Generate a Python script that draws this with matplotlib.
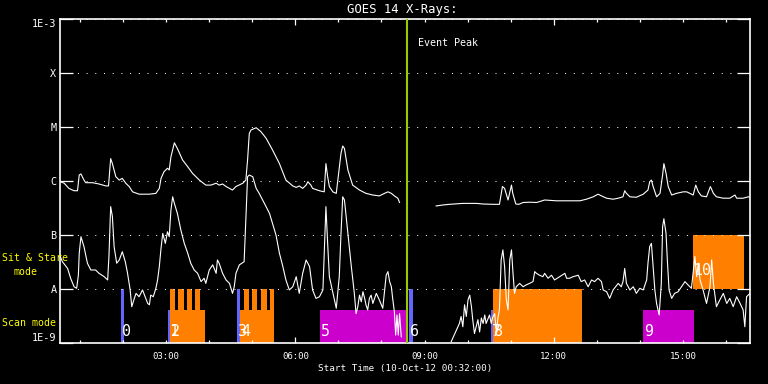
import numpy as np
import matplotlib.pyplot as plt
from matplotlib.ticker import FixedLocator, FuncFormatter, NullLocator
from matplotlib.transforms import blended_transform_factory

# GOES 14 X-ray flux, time in hours after 10-Oct-12 00:00, flux in W/m^2
long_t = [0.54, 0.63, 0.74, 0.86, 0.94, 0.98, 1.02, 1.09, 1.13, 1.29, 1.44, 1.60, 1.66,
          1.71, 1.75, 1.83, 1.91, 1.98, 2.06, 2.14, 2.22, 2.37, 2.61, 2.76, 2.84, 2.88,
          2.95, 3.03, 3.07, 3.11, 3.19, 3.26, 3.38, 3.50, 3.61, 3.77, 3.92, 4.04, 4.16,
          4.23, 4.31, 4.39, 4.54, 4.62, 4.78, 4.85, 4.89, 4.93, 4.97, 5.09, 5.20, 5.32,
          5.47, 5.63, 5.78, 5.94, 6.02, 6.09, 6.17, 6.25, 6.29, 6.36, 6.40, 6.56, 6.67,
          6.71, 6.75, 6.79, 6.87, 6.95, 7.06, 7.10, 7.14, 7.22, 7.33, 7.49, 7.64, 7.80,
          7.95, 8.07, 8.15, 8.23, 8.30, 8.38, 8.42, np.nan,
          9.27, 9.43, 9.58, 9.89, 10.20, 10.36, 10.59, 10.74, 10.81, 10.86, 10.94, 11.02,
          11.05, 11.12, 11.19, 11.29, 11.44, 11.60, 11.67, 11.79, 12.06, 12.37, 12.61,
          12.76, 12.92, 13.03, 13.11, 13.23, 13.38, 13.50, 13.61, 13.65, 13.69, 13.77,
          13.92, 14.08, 14.19, 14.23, 14.27, 14.31, 14.39, 14.47, 14.53, 14.56, 14.61,
          14.66, 14.74, 14.85, 15.01, 15.09, 15.16, 15.24, 15.30, 15.36, 15.43, 15.55,
          15.64, 15.71, 15.78, 15.94, 16.09, 16.21, 16.25, 16.40, 16.52, 16.56]
long_f = [9.7e-7, 9.1e-7, 7.3e-7, 6.6e-7, 6.6e-7, 1.29e-6, 1.35e-6, 1.04e-6, 9.3e-7, 9.3e-7,
          8.8e-7, 8.1e-7, 8.1e-7, 2.6e-6, 2.1e-6, 1.2e-6, 1.04e-6, 1.12e-6, 9.1e-7, 7.9e-7,
          6.3e-7, 5.7e-7, 5.7e-7, 5.9e-7, 7.3e-7, 1.12e-6, 1.49e-6, 1.72e-6, 1.6e-6, 2.8e-6,
          5.1e-6, 4.0e-6, 2.45e-6, 1.84e-6, 1.39e-6, 1.04e-6, 8.4e-7, 8.4e-7, 9.1e-7, 8.4e-7,
          8.8e-7, 7.9e-7, 6.8e-7, 7.9e-7, 9.1e-7, 1.04e-6, 2.45e-6, 7.6e-6, 8.8e-6, 9.7e-6,
          8.2e-6, 6.2e-6, 3.75e-6, 2.1e-6, 1.04e-6, 8.1e-7, 7.6e-7, 8.1e-7, 7.3e-7, 8.4e-7,
          9.7e-7, 8.4e-7, 7.3e-7, 6.6e-7, 6.3e-7, 2.1e-6, 1.2e-6, 7.9e-7, 6.3e-7, 5.9e-7,
          3.25e-6, 4.45e-6, 4.0e-6, 1.6e-6, 8.4e-7, 6.8e-7, 5.9e-7, 5.5e-7, 5.3e-7, 5.9e-7,
          6.3e-7, 5.9e-7, 5.3e-7, 4.8e-7, 4.0e-7, np.nan,
          3.45e-7, 3.6e-7, 3.7e-7, 3.85e-7, 3.85e-7, 3.75e-7, 3.7e-7, 3.7e-7, 7.9e-7, 7.3e-7,
          4.45e-7, 8.4e-7, 5.9e-7, 3.75e-7, 3.7e-7, 4.0e-7, 4.05e-7, 4.0e-7, 4.15e-7, 4.45e-7,
          4.3e-7, 4.3e-7, 4.3e-7, 4.6e-7, 5.1e-7, 5.7e-7, 5.3e-7, 4.8e-7, 4.6e-7, 4.8e-7,
          5.1e-7, 6.6e-7, 5.9e-7, 5.1e-7, 5.0e-7, 5.7e-7, 6.8e-7, 9.7e-7, 1.04e-6, 7.9e-7,
          5.1e-7, 5.9e-7, 1.29e-6, 2.1e-6, 1.39e-6, 7.9e-7, 5.5e-7, 5.9e-7, 6.3e-7, 6.3e-7,
          5.9e-7, 5.5e-7, 8.4e-7, 6.3e-7, 5.3e-7, 5.1e-7, 7.9e-7, 5.9e-7, 5.1e-7, 4.8e-7,
          4.8e-7, 5.5e-7, 4.8e-7, 4.8e-7, 5.1e-7, 5.0e-7]

short_t = [0.54, 0.59, 0.71, 0.78, 0.86, 0.92, 0.96, 0.98, 1.02, 1.09, 1.17, 1.25, 1.36,
           1.44, 1.56, 1.64, 1.67, 1.71, 1.75, 1.79, 1.85, 1.91, 1.98, 2.05, 2.10, 2.16,
           2.20, 2.26, 2.30, 2.37, 2.45, 2.51, 2.57, 2.61, 2.64, 2.70, 2.76, 2.80, 2.84,
           2.88, 2.92, 2.98, 3.03, 3.07, 3.11, 3.15, 3.19, 3.26, 3.34, 3.42, 3.50, 3.57,
           3.65, 3.73, 3.81, 3.88, 3.92, 4.00, 4.08, 4.16, 4.19, 4.23, 4.31, 4.39, 4.47,
           4.54, 4.58, 4.62, 4.70, 4.81, 4.89, 4.93, 5.01, 5.09, 5.16, 5.24, 5.32, 5.40,
           5.47, 5.55, 5.63, 5.71, 5.78, 5.86, 5.94, 6.02, 6.09, 6.17, 6.25, 6.33, 6.40,
           6.48, 6.56, 6.64, 6.71, 6.75, 6.79, 6.95, 7.02, 7.06, 7.10, 7.14, 7.22, 7.30,
           7.37, 7.41, 7.45, 7.49, 7.53, 7.57, 7.61, 7.64, 7.68, 7.72, 7.76, 7.80, 7.88,
           7.95, 8.03, 8.11, 8.15, 8.19, 8.23, 8.26, 8.30, 8.33, 8.36, 8.39, 8.42, 8.46,
           np.nan,
           9.62, 9.81, 9.85, 9.89, 9.93, 9.97, 10.01, 10.05, 10.09, 10.12, 10.16, 10.20,
           10.24, 10.28, 10.32, 10.36, 10.40, 10.43, 10.51, 10.55, 10.59, 10.63, 10.67,
           10.71, 10.74, 10.78, 10.82, 10.86, 10.90, 10.94, 10.98, 11.02, 11.05, 11.09,
           11.13, 11.21, 11.29, 11.36, 11.44, 11.52, 11.56, 11.60, 11.67, 11.75, 11.79,
           11.87, 11.95, 12.02, 12.14, 12.26, 12.30, 12.37, 12.45, 12.57, 12.64, 12.72,
           12.80, 12.88, 12.95, 13.03, 13.11, 13.15, 13.23, 13.30, 13.38, 13.50, 13.57,
           13.61, 13.65, 13.69, 13.77, 13.85, 13.92, 14.00, 14.08, 14.16, 14.19, 14.23,
           14.27, 14.31, 14.35, 14.39, 14.45, 14.50, 14.53, 14.56, 14.61, 14.64, 14.68,
           14.74, 14.81, 14.89, 14.97, 15.05, 15.12, 15.20, 15.28, 15.32, 15.36, 15.40,
           15.47, 15.55, 15.63, 15.67, 15.71, 15.78, 15.86, 15.94, 16.02, 16.09, 16.17,
           16.25, 16.33, 16.40, 16.44, 16.48, 16.56]
short_f = [4.0e-8, 3.2e-8, 2.4e-8, 1.58e-8, 1.1e-8, 1.03e-8, 1.8e-8, 4.6e-8, 9.3e-8, 6.1e-8,
           3.0e-8, 2.25e-8, 2.25e-8, 1.95e-8, 1.69e-8, 1.47e-8, 4.0e-8, 3.35e-7, 2.2e-7,
           6.1e-8, 3.0e-8, 3.45e-8, 4.9e-8, 3.2e-8, 2.0e-8, 1.0e-8, 4.7e-9, 6.7e-9, 8.3e-9,
           7.2e-9, 9.6e-9, 7.2e-9, 5.4e-9, 5.1e-9, 7.7e-9, 7.2e-9, 1.03e-8, 1.47e-8, 2.6e-8,
           5.7e-8, 1.07e-7, 7.0e-8, 1.15e-7, 9.3e-8, 2.9e-7, 5.1e-7, 3.85e-7, 2.5e-7,
           1.24e-7, 7.0e-8, 4.6e-8, 3.0e-8, 2.25e-8, 1.95e-8, 1.37e-8, 1.58e-8, 1.27e-8,
           2.25e-8, 2.8e-8, 1.95e-8, 3.45e-8, 3.0e-8, 1.95e-8, 1.47e-8, 1.27e-8, 8.3e-9,
           1.1e-8, 1.95e-8, 2.8e-8, 3.2e-8, 1.2e-6, 1.29e-6, 1.2e-6, 7.3e-7, 5.9e-7,
           4.45e-7, 3.35e-7, 2.5e-7, 1.64e-7, 1.0e-7, 4.6e-8, 2.6e-8, 1.47e-8, 9.6e-9,
           1.1e-8, 1.69e-8, 8.3e-9, 1.95e-8, 3.45e-8, 2.6e-8, 9.6e-9, 6.7e-9, 7.2e-9,
           9.6e-9, 3.35e-7, 7.0e-8, 1.69e-8, 4.4e-9, 1.69e-8, 1.07e-7, 5.1e-7, 4.45e-7,
           1.07e-7, 2.6e-8, 8.3e-9, 3.5e-9, 4.7e-9, 7.7e-9, 5.8e-9, 8.9e-9, 6.7e-9, 5.1e-9,
           4.1e-9, 6.7e-9, 7.7e-9, 5.4e-9, 8.3e-9, 6.3e-9, 4.4e-9, 1.8e-8, 2.1e-8, 1.37e-8,
           1.1e-8, 6.7e-9, 3.8e-9, 1.4e-9, 3.3e-9, 1.4e-9, 3.5e-9, 1.3e-9,
           np.nan,
           1.06e-9, 2.3e-9, 3.1e-9, 2.0e-9, 5.1e-9, 3.1e-9, 6.3e-9, 7.7e-9, 4.7e-9, 2.7e-9,
           1.5e-9, 2.0e-9, 2.7e-9, 1.6e-9, 2.9e-9, 2.3e-9, 3.3e-9, 2.3e-9, 3.3e-9, 2.3e-9,
           3.1e-9, 3.5e-9, 1.6e-9, 3.1e-9, 4.1e-9, 3.45e-8, 5.3e-8, 2.6e-8, 6.3e-9, 4.1e-9,
           3.45e-8, 5.3e-8, 2.25e-8, 8.3e-9, 1.1e-8, 1.27e-8, 1.1e-8, 1.19e-8, 1.27e-8,
           1.37e-8, 2.1e-8, 1.95e-8, 1.8e-8, 1.69e-8, 1.95e-8, 1.58e-8, 1.8e-8, 1.47e-8,
           1.69e-8, 1.95e-8, 1.58e-8, 1.58e-8, 1.69e-8, 1.8e-8, 1.37e-8, 1.47e-8, 1.1e-8,
           1.47e-8, 1.37e-8, 1.58e-8, 1.37e-8, 9.6e-9, 8.9e-9, 6.7e-9, 9.6e-9, 1.27e-8,
           1.1e-8, 1.37e-8, 2.4e-8, 1.27e-8, 9.6e-9, 1.1e-8, 8.3e-9, 1.03e-8, 9.6e-9,
           1.47e-8, 3.0e-8, 6.1e-8, 7.0e-8, 2.6e-8, 9.6e-9, 5.4e-9, 3.3e-9, 1.27e-8,
           1.43e-7, 2.0e-7, 1.07e-7, 3.45e-8, 9.6e-9, 6.7e-9, 8.3e-9, 8.9e-9, 1.1e-8,
           1.37e-8, 1.19e-8, 1.03e-8, 4.0e-8, 1.69e-8, 3.0e-8, 1.47e-8, 9.6e-9, 5.4e-9,
           1.1e-8, 3.45e-8, 1.27e-8, 4.7e-9, 6.3e-9, 8.3e-9, 5.4e-9, 6.7e-9, 4.7e-9,
           7.2e-9, 5.4e-9, 4.1e-9, 2.0e-9, 7.2e-9, 8.3e-9]

# observing blocks (hours); kind -> colour, band -> vertical extent
block_start = [1.95, 3.05, 3.09, 4.65, 4.72, 6.58, 8.65, 10.54, 10.60, 14.07, 15.23]
block_end = [2.02, 3.09, 3.91, 4.72, 5.51, 8.58, 8.74, 10.60, 12.65, 15.26, 16.42]
block_kind = ['marker', 'marker', 'raster', 'marker', 'raster', 'stare',
              'marker', 'marker', 'raster', 'stare', 'raster']
block_band = ['full', 'scan', 'scan', 'full', 'scan', 'scan',
              'full', 'scan', 'full', 'scan', 'sit']
# sit & stare interleaves inside raster blocks 2 and 4
finger_start = [3.09, 3.28, 3.49, 3.67, 4.81, 5.00, 5.21, 5.40]
finger_end = [3.21, 3.42, 3.60, 3.79, 4.93, 5.12, 5.33, 5.51]

event_peak = 8.60
t_start, t_end = 0.5333, 16.56

y_ticks = [1e-9, 1e-8, 1e-7, 1e-6, 1e-5, 1e-4, 1e-3]
y_labels = ['1E-9', 'A', 'B', 'C', 'M', 'X', '1E-3']

band_limits = {'scan': (1e-9, 4.1e-9), 'full': (1e-9, 1e-8), 'sit': (1e-8, 1e-7)}
kind_colors = {'marker': '#6464ff', 'raster': '#ff8000', 'stare': '#cc00cc'}

FONT = 'DejaVu Sans Mono'
plt.rcParams['font.family'] = FONT

fig = plt.figure(figsize=(7.68, 3.84), dpi=100, facecolor='black')
ax = fig.add_axes([60 / 768, 41 / 384, 690 / 768, 324 / 384])
ax.set_facecolor('black')
ax.set_yscale('log')
ax.set_xlim(t_start, t_end)
ax.set_ylim(1e-9, 1e-3)

# mode blocks
for s, e in zip(finger_start, finger_end):
    lo, hi = band_limits['full']
    ax.bar(s, hi - lo, bottom=lo, width=e - s, align='edge',
           color=kind_colors['raster'], linewidth=0, zorder=1)
for i, (s, e, k, b) in enumerate(zip(block_start, block_end, block_kind, block_band)):
    lo, hi = band_limits[b]
    ax.bar(s, hi - lo, bottom=lo, width=e - s, align='edge',
           color=kind_colors[k], linewidth=0, zorder=1)
    ty = 1.2e-9 if b != 'sit' else 1.6e-8
    ax.text(s + 0.02, ty, str(i), color='white', fontsize=10.8,
            ha='left', va='bottom', zorder=5)

ax.plot(long_t, long_f, color='white', lw=0.8, zorder=3)
ax.plot(short_t, short_f, color='white', lw=0.8, zorder=3)

ax.axvline(event_peak, color='#99cc00', lw=1.5, zorder=4)
trans = blended_transform_factory(ax.transData, ax.transAxes)
ax.text(event_peak + 0.24, 0.926, 'Event Peak', transform=trans, color='white',
        fontsize=7.2, va='center', ha='left')

# axes styling
for sp in ax.spines.values():
    sp.set_color('white')
    sp.set_linewidth(1.2)

ax.set_yticks(y_ticks)
ax.set_yticklabels(y_labels)
ax.yaxis.set_minor_locator(NullLocator())
ax.tick_params(axis='y', which='both', direction='in', length=9.4, width=0.9,
               colors='white', labelsize=7.3, left=True, right=True, pad=2.5)
tl = ax.get_yticklabels()
tl[0].set_va('bottom')
tl[-1].set_va('top')

hour_fmt = FuncFormatter(lambda v, p: f"{int(round(v)):02d}:00" if round(v) % 3 == 0 else '')
ax.xaxis.set_major_locator(FixedLocator([6, 12]))
ax.xaxis.set_minor_locator(FixedLocator([h for h in range(1, 17) if h not in (6, 12)]))
ax.xaxis.set_major_formatter(hour_fmt)
ax.xaxis.set_minor_formatter(hour_fmt)
ax.tick_params(axis='x', which='major', length=4.3)
ax.tick_params(axis='x', which='minor', length=2.5)
ax.tick_params(axis='x', which='both', direction='in', width=0.9, colors='white',
               labelsize=6.5, top=True, bottom=True, pad=6.3)

ax.grid(axis='y', which='major', color='white', linestyle=(0, (1, 7.7)), linewidth=0.72)

fig.text(402 / 768, 1 - 9 / 384, 'GOES 14 X-Rays:', color='white', fontsize=8.8,
         ha='center', va='center')
fig.text(405 / 768, 1 - 369 / 384, 'Start Time (10-Oct-12 00:32:00)', color='white',
         fontsize=6.7, ha='center', va='center')
fig.text(2 / 768, 1 - 258 / 384, 'Sit & Stare', color='yellow', fontsize=7.1,
         ha='left', va='center')
fig.text(13 / 768, 1 - 272 / 384, 'mode', color='yellow', fontsize=7.1,
         ha='left', va='center')
fig.text(2 / 768, 1 - 322.5 / 384, 'Scan mode', color='yellow', fontsize=7.1,
         ha='left', va='center')

fig.savefig('out.png', dpi=100, facecolor='black')
